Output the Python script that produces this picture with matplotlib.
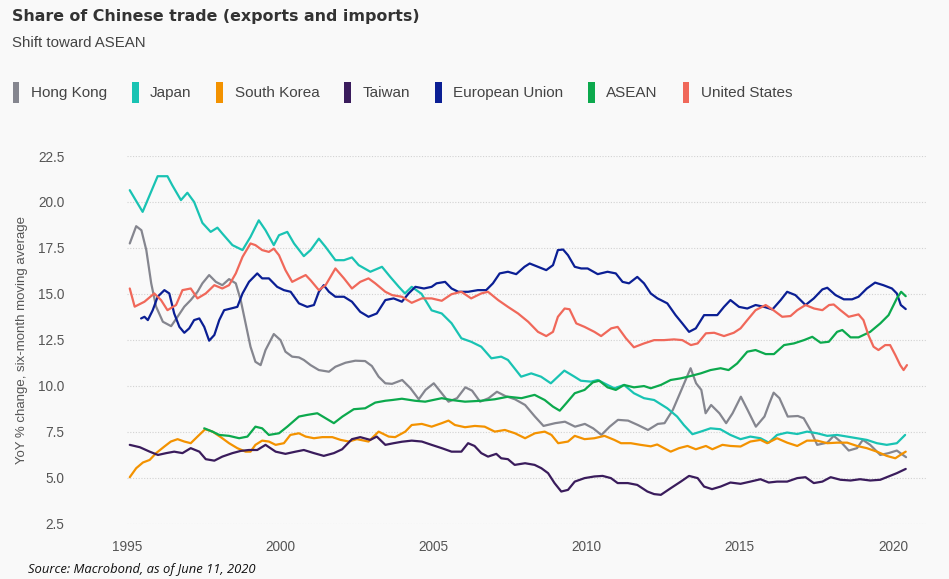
import matplotlib
matplotlib.use("Agg")
import matplotlib.pyplot as plt
from matplotlib.patches import Patch

# ---------------- data ----------------
series_names = ["Hong Kong", "Japan", "South Korea", "Taiwan",
                "European Union", "ASEAN", "United States"]

hk_t = [1995.09, 1995.30, 1995.47, 1995.63, 1995.79, 1995.95, 1996.17, 1996.44, 1996.65, 1996.87,
        1997.08, 1997.30, 1997.46, 1997.68, 1997.90, 1998.11, 1998.33, 1998.55, 1998.71, 1998.87,
        1999.03, 1999.19, 1999.36, 1999.52, 1999.79, 2000.01, 2000.17, 2000.39, 2000.61, 2000.77,
        2000.99, 2001.26, 2001.59, 2001.80, 2002.13, 2002.45, 2002.77, 2002.99, 2003.21, 2003.43,
        2003.65, 2003.98, 2004.25, 2004.52, 2004.74, 2005.01, 2005.23, 2005.49, 2005.77, 2006.04,
        2006.26, 2006.52, 2006.80, 2007.07, 2007.34, 2007.66, 2007.99, 2008.31, 2008.59, 2008.97,
        2009.29, 2009.62, 2009.94, 2010.21, 2010.48, 2010.75, 2011.02, 2011.35, 2011.67, 2012.00,
        2012.32, 2012.54, 2012.81, 2013.09, 2013.39, 2013.57, 2013.74, 2013.88, 2014.06, 2014.33,
        2014.55, 2014.76, 2015.03, 2015.25, 2015.52, 2015.80, 2015.96, 2016.10, 2016.29, 2016.56,
        2016.89, 2017.08, 2017.30, 2017.52, 2017.85, 2018.06, 2018.28, 2018.55, 2018.82, 2019.01,
        2019.25, 2019.58, 2019.85, 2020.12, 2020.42]
hk_v = [17.74, 18.68, 18.46, 17.38, 15.57, 14.30, 13.48, 13.24, 13.75, 14.30,
        14.66, 15.11, 15.57, 16.02, 15.65, 15.47, 15.80, 15.57, 14.66, 13.39,
        12.12, 11.30, 11.12, 11.94, 12.81, 12.48, 11.85, 11.58, 11.54, 11.40,
        11.12, 10.85, 10.76, 11.03, 11.25, 11.36, 11.34, 11.07, 10.49, 10.13,
        10.10, 10.31, 9.86, 9.26, 9.77, 10.13, 9.67, 9.13, 9.32, 9.91,
        9.73, 9.13, 9.32, 9.67, 9.44, 9.26, 8.95, 8.32, 7.81, 7.96,
        8.04, 7.77, 7.92, 7.68, 7.32, 7.77, 8.14, 8.10, 7.86, 7.59,
        7.92, 7.96, 8.68, 9.77, 10.95, 10.13, 9.77, 8.50, 8.95, 8.50,
        7.96, 8.50, 9.40, 8.68, 7.77, 8.32, 9.04, 9.62, 9.32, 8.32,
        8.35, 8.23, 7.59, 6.78, 6.90, 7.27, 6.96, 6.47, 6.60, 7.05,
        6.78, 6.23, 6.33, 6.47, 6.11]

jp_t = [1995.09, 1995.51, 1996.00, 1996.32, 1996.48, 1996.76, 1996.97, 1997.19, 1997.46, 1997.73,
        1997.95, 1998.11, 1998.44, 1998.77, 1999.03, 1999.30, 1999.52, 1999.79, 1999.96, 2000.23,
        2000.45, 2000.77, 2000.99, 2001.26, 2001.48, 2001.80, 2002.08, 2002.34, 2002.56, 2002.94,
        2003.32, 2003.59, 2003.87, 2004.07, 2004.29, 2004.61, 2004.94, 2005.27, 2005.59, 2005.91,
        2006.23, 2006.56, 2006.89, 2007.21, 2007.43, 2007.86, 2008.19, 2008.51, 2008.83, 2009.27,
        2009.60, 2009.81, 2010.14, 2010.36, 2010.68, 2010.90, 2011.22, 2011.54, 2011.87, 2012.20,
        2012.63, 2012.95, 2013.17, 2013.45, 2013.72, 2014.04, 2014.36, 2014.69, 2015.02, 2015.34,
        2015.67, 2015.94, 2016.21, 2016.54, 2016.87, 2017.19, 2017.52, 2017.85, 2018.17, 2018.50,
        2018.82, 2019.14, 2019.47, 2019.79, 2020.12, 2020.39]
jp_v = [20.64, 19.46, 21.40, 21.40, 20.90, 20.10, 20.50, 20.00, 18.86, 18.37,
        18.60, 18.28, 17.65, 17.38, 18.10, 19.00, 18.46, 17.65, 18.19, 18.37,
        17.74, 17.05, 17.38, 18.00, 17.55, 16.83, 16.83, 16.98, 16.56, 16.20,
        16.47, 15.92, 15.38, 15.02, 15.38, 15.00, 14.10, 13.93, 13.40, 12.58,
        12.39, 12.12, 11.49, 11.58, 11.40, 10.49, 10.67, 10.49, 10.13, 10.82,
        10.49, 10.27, 10.22, 10.31, 10.04, 9.86, 10.04, 9.59, 9.32, 9.22,
        8.77, 8.32, 7.86, 7.36, 7.50, 7.68, 7.63, 7.32, 7.09, 7.23,
        7.14, 6.90, 7.32, 7.45, 7.37, 7.50, 7.41, 7.27, 7.32, 7.23,
        7.14, 7.05, 6.87, 6.78, 6.87, 7.32]

kr_t = [1995.09, 1995.30, 1995.52, 1995.74, 1995.95, 1996.22, 1996.43, 1996.65, 1996.87, 1997.08,
        1997.30, 1997.55, 1997.79, 1998.06, 1998.33, 1998.60, 1998.87, 1999.03, 1999.19, 1999.41,
        1999.63, 1999.85, 2000.12, 2000.33, 2000.61, 2000.83, 2001.10, 2001.37, 2001.70, 2001.97,
        2002.24, 2002.50, 2002.88, 2003.21, 2003.54, 2003.75, 2004.08, 2004.29, 2004.62, 2004.94,
        2005.27, 2005.49, 2005.70, 2006.03, 2006.35, 2006.67, 2007.00, 2007.33, 2007.66, 2007.99,
        2008.31, 2008.63, 2008.85, 2009.07, 2009.39, 2009.61, 2009.93, 2010.25, 2010.58, 2010.90,
        2011.12, 2011.44, 2011.76, 2012.09, 2012.30, 2012.74, 2013.01, 2013.29, 2013.56, 2013.89,
        2014.10, 2014.43, 2014.69, 2015.02, 2015.34, 2015.67, 2015.89, 2016.21, 2016.54, 2016.87,
        2017.19, 2017.52, 2017.85, 2018.17, 2018.50, 2018.82, 2019.14, 2019.47, 2019.79, 2020.07,
        2020.29, 2020.41]
kr_v = [5.02, 5.51, 5.82, 5.96, 6.33, 6.69, 6.96, 7.09, 6.96, 6.87,
        7.23, 7.63, 7.50, 7.20, 6.87, 6.60, 6.41, 6.41, 6.78, 7.01,
        6.96, 6.78, 6.87, 7.32, 7.41, 7.23, 7.14, 7.20, 7.20, 7.05,
        6.96, 7.09, 6.96, 7.50, 7.23, 7.20, 7.50, 7.86, 7.92, 7.77,
        7.96, 8.10, 7.86, 7.74, 7.81, 7.77, 7.50, 7.59, 7.41, 7.14,
        7.41, 7.50, 7.32, 6.87, 6.96, 7.27, 7.09, 7.14, 7.27, 7.05,
        6.87, 6.87, 6.78, 6.70, 6.80, 6.41, 6.60, 6.72, 6.54, 6.72,
        6.54, 6.78, 6.72, 6.69, 6.96, 7.05, 6.87, 7.14, 6.90, 6.72,
        7.01, 7.01, 6.87, 6.90, 6.90, 6.72, 6.60, 6.41, 6.18, 6.05,
        6.29, 6.41]

tw_t = [1995.09, 1995.42, 1995.74, 1996.01, 1996.28, 1996.54, 1996.81, 1997.08, 1997.36, 1997.57,
        1997.85, 1998.11, 1998.44, 1998.71, 1998.98, 1999.25, 1999.52, 1999.85, 2000.17, 2000.50,
        2000.77, 2001.10, 2001.42, 2001.75, 2002.02, 2002.34, 2002.61, 2002.94, 2003.15, 2003.43,
        2003.70, 2003.97, 2004.29, 2004.62, 2004.94, 2005.27, 2005.59, 2005.91, 2006.13, 2006.34,
        2006.56, 2006.78, 2007.05, 2007.21, 2007.43, 2007.65, 2007.99, 2008.30, 2008.52, 2008.74,
        2008.95, 2009.17, 2009.39, 2009.61, 2009.93, 2010.25, 2010.52, 2010.79, 2011.01, 2011.34,
        2011.65, 2011.98, 2012.20, 2012.42, 2012.74, 2013.07, 2013.34, 2013.62, 2013.83, 2014.09,
        2014.37, 2014.69, 2015.02, 2015.34, 2015.67, 2015.94, 2016.21, 2016.54, 2016.87, 2017.14,
        2017.41, 2017.69, 2017.96, 2018.28, 2018.61, 2018.92, 2019.25, 2019.58, 2019.85, 2020.12,
        2020.41]
tw_v = [6.78, 6.65, 6.41, 6.23, 6.33, 6.41, 6.33, 6.60, 6.41, 6.00,
        5.92, 6.14, 6.33, 6.45, 6.50, 6.50, 6.78, 6.41, 6.29, 6.41,
        6.50, 6.33, 6.18, 6.33, 6.54, 7.09, 7.20, 7.05, 7.23, 6.78,
        6.87, 6.95, 7.01, 6.96, 6.78, 6.60, 6.41, 6.41, 6.87, 6.72,
        6.33, 6.14, 6.29, 6.05, 6.00, 5.69, 5.78, 5.69, 5.51, 5.24,
        4.70, 4.24, 4.33, 4.78, 4.97, 5.06, 5.09, 4.97, 4.70, 4.70,
        4.60, 4.24, 4.10, 4.06, 4.42, 4.78, 5.09, 4.97, 4.51, 4.37,
        4.51, 4.73, 4.66, 4.78, 4.91, 4.73, 4.78, 4.78, 4.97, 5.02,
        4.70, 4.78, 5.02, 4.88, 4.84, 4.91, 4.84, 4.88, 5.06, 5.24,
        5.47]

eu_t = [1995.46, 1995.57, 1995.68, 1995.84, 1996.00, 1996.22, 1996.38, 1996.54, 1996.71, 1996.87,
        1997.03, 1997.19, 1997.36, 1997.52, 1997.68, 1997.85, 1998.01, 1998.17, 1998.39, 1998.60,
        1998.77, 1998.98, 1999.25, 1999.41, 1999.63, 1999.90, 2000.12, 2000.34, 2000.61, 2000.88,
        2001.10, 2001.26, 2001.42, 2001.59, 2001.80, 2002.08, 2002.34, 2002.61, 2002.88, 2003.15,
        2003.43, 2003.70, 2003.97, 2004.19, 2004.41, 2004.69, 2004.94, 2005.10, 2005.38, 2005.59,
        2005.81, 2006.13, 2006.45, 2006.72, 2006.94, 2007.16, 2007.43, 2007.70, 2007.97, 2008.14,
        2008.41, 2008.68, 2008.90, 2009.06, 2009.23, 2009.39, 2009.61, 2009.82, 2010.03, 2010.36,
        2010.68, 2010.95, 2011.17, 2011.38, 2011.65, 2011.87, 2012.09, 2012.31, 2012.42, 2012.63,
        2012.90, 2013.12, 2013.34, 2013.56, 2013.83, 2014.04, 2014.26, 2014.48, 2014.69, 2014.97,
        2015.24, 2015.51, 2015.79, 2016.06, 2016.33, 2016.54, 2016.81, 2017.14, 2017.41, 2017.69,
        2017.85, 2018.12, 2018.39, 2018.66, 2018.87, 2019.14, 2019.41, 2019.68, 2019.96, 2020.12,
        2020.25, 2020.41]
eu_v = [13.66, 13.75, 13.57, 14.11, 14.84, 15.20, 15.02, 13.93, 13.20, 12.88,
        13.12, 13.57, 13.66, 13.20, 12.45, 12.76, 13.57, 14.11, 14.20, 14.29,
        15.02, 15.65, 16.11, 15.84, 15.84, 15.38, 15.20, 15.11, 14.48, 14.29,
        14.39, 15.11, 15.47, 15.11, 14.84, 14.84, 14.57, 14.02, 13.75, 13.93,
        14.66, 14.75, 14.57, 15.02, 15.38, 15.29, 15.38, 15.57, 15.65, 15.29,
        15.11, 15.11, 15.20, 15.20, 15.57, 16.11, 16.20, 16.07, 16.47, 16.65,
        16.47, 16.29, 16.56, 17.38, 17.41, 17.10, 16.47, 16.38, 16.38, 16.07,
        16.20, 16.11, 15.65, 15.57, 15.92, 15.57, 15.02, 14.75, 14.66, 14.48,
        13.84, 13.39, 12.93, 13.12, 13.84, 13.84, 13.84, 14.29, 14.66, 14.29,
        14.20, 14.39, 14.29, 14.15, 14.66, 15.11, 14.93, 14.39, 14.75, 15.24,
        15.33, 14.93, 14.70, 14.70, 14.84, 15.29, 15.61, 15.47, 15.29, 15.02,
        14.39, 14.17]

as_t = [1997.52, 1997.79, 1998.01, 1998.33, 1998.66, 1998.93, 1999.19, 1999.41, 1999.63, 1999.96,
        2000.23, 2000.61, 2000.88, 2001.21, 2001.48, 2001.75, 2002.03, 2002.40, 2002.77, 2003.10,
        2003.43, 2003.65, 2003.97, 2004.40, 2004.73, 2005.27, 2005.59, 2006.03, 2006.56, 2007.00,
        2007.43, 2007.87, 2008.30, 2008.63, 2008.90, 2009.12, 2009.33, 2009.61, 2009.93, 2010.20,
        2010.41, 2010.68, 2010.95, 2011.22, 2011.54, 2011.87, 2012.09, 2012.42, 2012.74, 2013.07,
        2013.40, 2013.72, 2014.04, 2014.37, 2014.63, 2014.91, 2015.24, 2015.51, 2015.84, 2016.11,
        2016.44, 2016.76, 2017.09, 2017.36, 2017.63, 2017.90, 2018.17, 2018.34, 2018.61, 2018.87,
        2019.25, 2019.58, 2019.85, 2020.12, 2020.26, 2020.41]
as_v = [7.68, 7.50, 7.32, 7.27, 7.14, 7.23, 7.77, 7.68, 7.32, 7.41,
        7.77, 8.32, 8.41, 8.50, 8.23, 7.96, 8.32, 8.72, 8.77, 9.08,
        9.18, 9.22, 9.29, 9.18, 9.13, 9.32, 9.22, 9.13, 9.18, 9.26,
        9.40, 9.32, 9.50, 9.22, 8.86, 8.64, 9.04, 9.59, 9.77, 10.18,
        10.27, 9.91, 9.77, 10.04, 9.91, 9.98, 9.86, 10.04, 10.31, 10.40,
        10.53, 10.67, 10.85, 10.95, 10.85, 11.21, 11.85, 11.94, 11.72, 11.72,
        12.21, 12.30, 12.48, 12.66, 12.34, 12.39, 12.93, 13.03, 12.63, 12.63,
        12.93, 13.39, 13.84, 14.75, 15.11, 14.87]

us_t = [1995.09, 1995.25, 1995.57, 1995.89, 1996.11, 1996.32, 1996.60, 1996.81, 1997.08, 1997.30,
        1997.57, 1997.85, 1998.11, 1998.33, 1998.55, 1998.77, 1999.03, 1999.19, 1999.41, 1999.63,
        1999.79, 1999.96, 2000.17, 2000.39, 2000.61, 2000.83, 2000.99, 2001.26, 2001.48, 2001.80,
        2002.08, 2002.34, 2002.61, 2002.88, 2003.10, 2003.43, 2003.65, 2003.97, 2004.29, 2004.62,
        2004.94, 2005.27, 2005.59, 2005.91, 2006.23, 2006.56, 2006.78, 2007.11, 2007.43, 2007.76,
        2008.09, 2008.41, 2008.68, 2008.90, 2009.06, 2009.28, 2009.44, 2009.66, 2009.93, 2010.25,
        2010.47, 2010.80, 2011.01, 2011.28, 2011.54, 2011.87, 2012.20, 2012.52, 2012.85, 2013.12,
        2013.40, 2013.62, 2013.89, 2014.16, 2014.48, 2014.80, 2015.02, 2015.24, 2015.51, 2015.84,
        2016.06, 2016.38, 2016.65, 2016.87, 2017.14, 2017.42, 2017.69, 2017.91, 2018.06, 2018.28,
        2018.55, 2018.87, 2019.03, 2019.19, 2019.36, 2019.52, 2019.74, 2019.90, 2020.07, 2020.23,
        2020.34, 2020.45]
us_v = [15.29, 14.30, 14.57, 15.02, 14.66, 14.11, 14.39, 15.20, 15.29, 14.75,
        15.02, 15.47, 15.29, 15.47, 16.11, 17.01, 17.74, 17.65, 17.38, 17.28,
        17.46, 17.10, 16.29, 15.65, 15.84, 16.02, 15.74, 15.20, 15.47, 16.38,
        15.84, 15.29, 15.65, 15.84, 15.57, 15.11, 14.93, 14.84, 14.51, 14.75,
        14.75, 14.62, 14.98, 15.11, 14.75, 15.02, 15.11, 14.66, 14.29, 13.93,
        13.48, 12.93, 12.70, 12.93, 13.75, 14.20, 14.16, 13.39, 13.20, 12.93,
        12.70, 13.12, 13.20, 12.58, 12.09, 12.30, 12.48, 12.48, 12.52, 12.48,
        12.21, 12.30, 12.85, 12.88, 12.70, 12.88, 13.12, 13.57, 14.11, 14.39,
        14.15, 13.75, 13.79, 14.11, 14.39, 14.20, 14.11, 14.39, 14.42, 14.11,
        13.75, 13.88, 13.57, 12.76, 12.12, 11.94, 12.21, 12.21, 11.67, 11.12,
        10.85, 11.12]

y_ticks = [2.5, 5.0, 7.5, 10.0, 12.5, 15.0, 17.5, 20.0, 22.5]
x_ticks = [1995, 2000, 2005, 2010, 2015, 2020]

# ---------------- style ----------------
colors = ["#85868f", "#19c3b3", "#f39200", "#3a1c5c", "#0b1f94", "#0ca94d", "#f0685a"]
SANS = ["Liberation Sans", "DejaVu Sans"]
BG = "#f9f9f9"

fig = plt.figure(figsize=(9.49, 5.79), dpi=100, facecolor=BG)
ax = fig.add_axes([127 / 949, 1 - 523.5 / 579, 800 / 949, 367.5 / 579])
ax.set_facecolor(BG)

data = [(hk_t, hk_v), (jp_t, jp_v), (kr_t, kr_v), (tw_t, tw_v),
        (eu_t, eu_v), (as_t, as_v), (us_t, us_v)]
for (t, v), c, name in zip(data, colors, series_names):
    ax.plot(t, v, color=c, lw=1.6, label=name, solid_joinstyle="round",
            solid_capstyle="round", clip_on=False, zorder=3)

ax.set_xlim(1995.088, 2021.104)
ax.set_ylim(2.5, 22.5)
ax.set_yticks(y_ticks)
ax.set_yticklabels([f"{y:.1f}" for y in y_ticks])
ax.set_xticks(x_ticks)
ax.set_xticklabels([str(x) for x in x_ticks])
ax.grid(axis="y", color="#d2d2d2", lw=0.8, ls=(0, (1, 1.5)), zorder=0)
ax.grid(axis="x", visible=False)
for s in ax.spines.values():
    s.set_visible(False)
ax.tick_params(axis="both", length=0, colors="#555555", labelsize=9.8)
ax.tick_params(axis="y", pad=45)
ax.tick_params(axis="x", pad=12)
for lab in ax.get_xticklabels() + ax.get_yticklabels():
    lab.set_family(SANS)

ax.set_ylabel("YoY % change, six-month moving average", family=SANS,
              fontsize=9.5, color="#555555")
ax.yaxis.set_label_coords(-0.1234, 0.5)

# legend
handles = [Patch(facecolor=c, edgecolor="none") for c in colors]
leg = fig.legend(handles, series_names, loc="upper left",
                 bbox_to_anchor=(12.7 / 949, 1 - 81.7 / 579), ncol=7,
                 frameon=False, borderpad=0, borderaxespad=0,
                 handlelength=0.44, handleheight=1.8, handletextpad=0.75,
                 columnspacing=1.63, prop={"family": SANS, "size": 11})
for txt in leg.get_texts():
    txt.set_color("#444444")

fig.text(12 / 949, 1 - 20.7 / 579, "Share of Chinese trade (exports and imports)",
         family="DejaVu Sans", weight="bold", fontsize=11.4, color="#333333",
         va="baseline", ha="left")
fig.text(12 / 949, 1 - 47.3 / 579, "Shift toward ASEAN", family=SANS,
         fontsize=10.8, color="#444444", va="baseline", ha="left")
fig.text(28 / 949, 1 - 570 / 579, "Source: Macrobond, as of June 11, 2020",
         family=["Open Sans", "DejaVu Sans"], style="italic", fontsize=9.4,
         color="#111111", va="center", ha="left")

fig.savefig("out.png", dpi=100, facecolor=BG)
